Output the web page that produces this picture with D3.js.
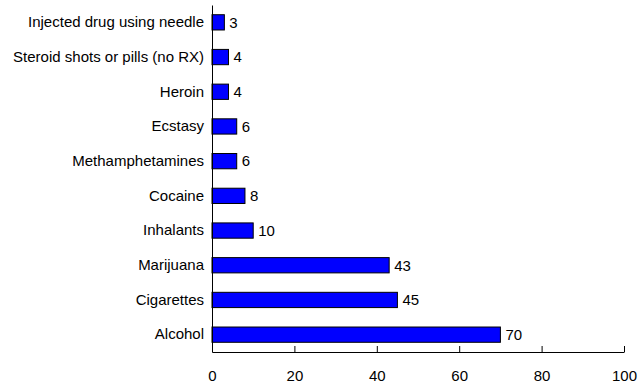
<!DOCTYPE html>
<html><head><meta charset="utf-8">
<script src="https://cdn.jsdelivr.net/npm/d3@7"></script>
<style>body{margin:0;background:#fff;}svg{display:block;font-family:"Liberation Sans",Arial,sans-serif;}</style>
</head><body>
<script>
const categories = ["Injected drug using needle","Steroid shots or pills (no RX)","Heroin","Ecstasy","Methamphetamines","Cocaine","Inhalants","Marijuana","Cigarettes","Alcohol"];
const values = [3,4,4,6,6,8,10,43,45,70];
const xTicks = [0,20,40,60,80,100];

const W=640,H=384,FS=15;
const m={left:212,right:16,top:5,bottom:32};
const svg=d3.select("body").append("svg").attr("width",W).attr("height",H);
const x=d3.scaleLinear().domain([0,100]).range([m.left,W-m.right]);
const y=d3.scaleBand().domain(categories).range([m.top,H-m.bottom]).paddingInner(0.56).paddingOuter(0.28);

svg.selectAll("rect.bar").data(values).join("rect").attr("class","bar")
  .attr("x",x(0)).attr("y",(d,i)=>y(categories[i]))
  .attr("width",d=>x(d)-x(0)).attr("height",y.bandwidth())
  .attr("fill","#0000FF").attr("stroke","#000").attr("stroke-width",1);

svg.selectAll("text.val").data(values).join("text").attr("class","val")
  .attr("x",d=>x(d)+5).attr("y",(d,i)=>y(categories[i])+y.bandwidth()/2)
  .attr("dy","0.35em").attr("font-size",FS).attr("fill","#000").text(d=>d);

const xa=svg.append("g").attr("transform",`translate(0,${H-m.bottom})`)
  .call(d3.axisBottom(x).tickValues(xTicks).tickSizeInner(-6).tickSizeOuter(0).tickPadding(18));
xa.select(".domain").attr("stroke","#000");
xa.selectAll(".tick line").attr("stroke","#000");
xa.selectAll("text").attr("font-size",FS).attr("fill","#000").attr("font-family","Liberation Sans, Arial, sans-serif");

const ya=svg.append("g").attr("transform",`translate(${m.left},0)`)
  .call(d3.axisLeft(y).tickSize(0).tickPadding(8));
ya.select(".domain").attr("stroke","#000");
ya.selectAll("text").attr("font-size",FS).attr("fill","#000").attr("font-family","Liberation Sans, Arial, sans-serif");
</script>
</body></html>
